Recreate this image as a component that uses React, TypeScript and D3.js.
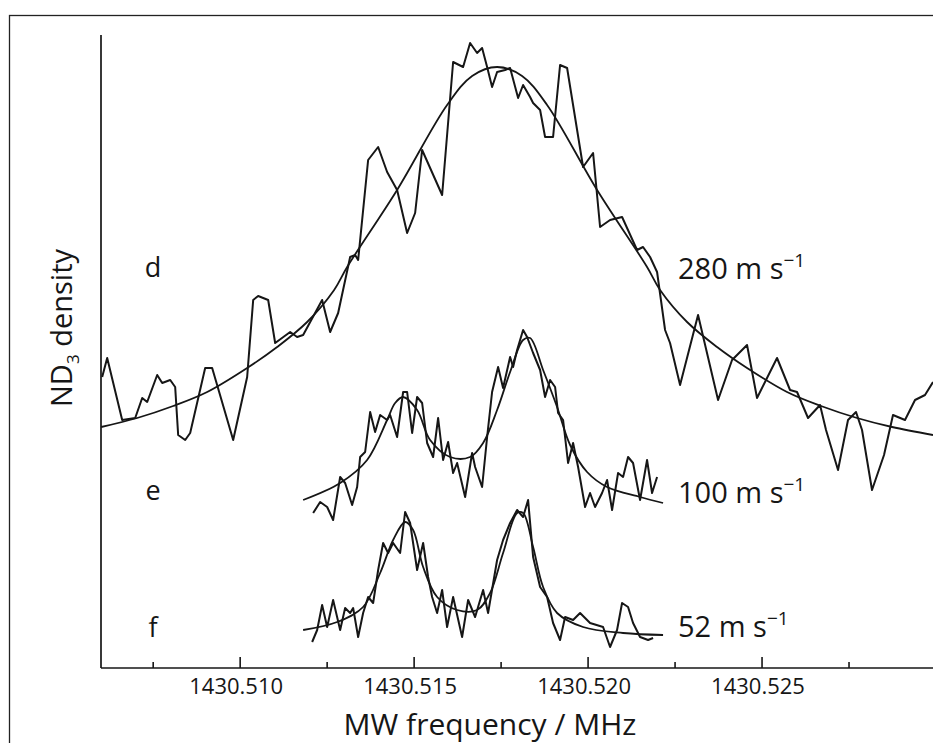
import React from "react";
import * as d3 from "d3";

// Frequencies are given in kHz above 1430.500 MHz; density in arbitrary units.
const dFreq = [6.034, 6.178, 6.609, 6.983, 7.184, 7.328, 7.615, 7.759, 7.989, 8.132, 8.218, 8.42, 8.563, 8.994, 9.195, 9.799, 10.201, 10.374, 10.517, 10.805, 11.006, 11.437, 11.638, 11.81, 12.356, 12.586, 12.816, 13.161, 13.305, 13.391, 13.678, 13.966, 14.224, 14.511, 14.799, 15.029, 15.23, 15.805, 16.121, 16.408, 16.609, 16.81, 16.954, 17.098, 17.241, 17.385, 17.615, 17.759, 17.989, 18.132, 18.333, 18.42, 18.621, 18.764, 18.994, 19.195, 19.397, 19.856, 20.144, 20.345, 20.632, 20.977, 21.408, 21.58, 21.782, 21.983, 22.213, 22.356, 22.644, 23.161, 23.736, 24.138, 24.569, 24.856, 25.431, 25.805, 26.006, 26.322, 26.667, 26.839, 27.184, 27.471, 27.701, 27.874, 28.161, 28.506, 28.764, 29.109, 29.397, 29.684, 29.914];
const dDens = [29.1, 31.0, 24.8, 25.0, 27.0, 26.6, 29.3, 28.5, 28.8, 28.1, 23.3, 22.8, 23.5, 30.0, 30.0, 22.8, 29.1, 36.8, 37.2, 36.8, 32.5, 33.6, 33.1, 33.3, 36.8, 33.6, 35.5, 41.1, 41.3, 40.8, 50.8, 52.1, 49.6, 47.8, 43.5, 45.5, 51.8, 47.3, 60.6, 60.1, 62.5, 61.5, 62.0, 60.1, 58.1, 59.6, 59.8, 60.0, 57.0, 58.3, 57.1, 56.5, 55.8, 53.1, 53.1, 60.3, 60.0, 50.1, 51.5, 44.1, 44.8, 45.1, 41.8, 42.1, 41.1, 39.6, 33.8, 32.5, 28.3, 35.3, 26.8, 30.8, 32.3, 27.0, 31.0, 27.8, 27.6, 25.0, 26.3, 23.8, 19.8, 24.8, 25.6, 23.8, 17.8, 21.3, 25.3, 24.8, 26.8, 27.3, 28.6];

const dFitFreq = [6.006, 7.04, 8.075, 9.052, 10.201, 11.063, 11.925, 12.701, 13.075, 14.511, 15.948, 16.667, 17.385, 18.103, 18.822, 20.259, 21.695, 22.069, 22.845, 23.707, 24.569, 25.718, 26.695, 27.73, 28.736, 29.914];
const dFitDens = [24.1, 25.0, 26.2, 27.6, 30.0, 32.1, 34.6, 37.8, 40.1, 47.8, 56.3, 59.2, 60.1, 59.2, 56.3, 47.8, 40.1, 37.8, 34.6, 32.1, 30.0, 27.6, 26.2, 25.0, 24.1, 23.3];

const eFreq = [12.098, 12.299, 12.5, 12.672, 12.874, 13.017, 13.218, 13.362, 13.448, 13.592, 13.736, 13.879, 14.023, 14.224, 14.31, 14.511, 14.684, 14.799, 14.943, 15.086, 15.23, 15.374, 15.546, 15.69, 15.833, 15.977, 16.121, 16.236, 16.466, 16.667, 16.753, 16.954, 17.098, 17.241, 17.414, 17.557, 17.759, 17.845, 17.96, 18.132, 18.247, 18.42, 18.621, 18.764, 18.908, 19.052, 19.138, 19.282, 19.425, 19.569, 19.713, 19.914, 20.057, 20.201, 20.402, 20.546, 20.69, 20.862, 21.006, 21.149, 21.293, 21.494, 21.695, 21.839, 21.983];
const eDens = [15.5, 16.6, 16.1, 14.8, 19.1, 18.5, 16.3, 18.1, 21.1, 21.6, 25.6, 23.6, 25.3, 24.8, 25.3, 23.1, 27.6, 27.6, 23.5, 27.1, 26.5, 22.5, 21.1, 25.0, 20.8, 22.6, 19.5, 20.5, 17.1, 21.5, 20.1, 18.1, 23.1, 27.6, 30.1, 28.0, 31.1, 30.1, 31.8, 33.8, 33.1, 31.5, 29.8, 27.1, 28.8, 28.1, 25.5, 24.8, 20.5, 22.5, 20.1, 16.1, 17.5, 16.1, 17.5, 18.8, 15.8, 19.5, 19.1, 21.1, 20.5, 16.8, 20.8, 17.5, 19.1];

const eFitFreq = [11.81, 12.874, 13.649, 14.224, 14.454, 14.684, 15.086, 15.46, 16.034, 16.609, 16.983, 17.385, 17.759, 18.132, 18.333, 18.707, 19.109, 19.483, 19.971, 20.546, 21.494, 22.155];
const eFitDens = [16.8, 18.5, 20.8, 24.8, 26.5, 27.1, 25.8, 22.8, 21.1, 21.1, 22.5, 25.8, 29.6, 32.8, 33.0, 29.8, 26.1, 22.3, 19.6, 18.1, 17.1, 16.5];

const fFreq = [12.069, 12.213, 12.356, 12.5, 12.672, 12.874, 13.017, 13.161, 13.247, 13.391, 13.534, 13.678, 13.822, 13.966, 14.109, 14.253, 14.397, 14.598, 14.741, 14.885, 15.086, 15.259, 15.402, 15.517, 15.661, 15.805, 15.948, 16.121, 16.379, 16.552, 16.753, 16.983, 17.126, 17.385, 17.557, 17.759, 17.96, 18.132, 18.276, 18.42, 18.621, 18.822, 18.994, 19.195, 19.339, 19.569, 19.77, 20.057, 20.431, 20.632, 20.833, 20.977, 21.149, 21.293, 21.494, 21.724, 21.868];
const fDens = [2.6, 3.8, 6.3, 4.1, 6.8, 3.8, 6.0, 5.5, 6.0, 3.1, 5.5, 7.1, 6.5, 9.8, 12.5, 11.5, 12.5, 11.5, 15.6, 14.5, 9.8, 12.5, 9.1, 7.1, 5.5, 7.8, 4.1, 7.1, 3.1, 6.8, 5.1, 7.8, 5.5, 10.8, 12.8, 14.5, 15.8, 15.1, 16.8, 11.1, 8.1, 7.1, 4.5, 2.8, 5.1, 4.8, 5.5, 4.5, 4.1, 2.1, 3.8, 6.5, 6.1, 4.5, 3.1, 2.8, 3.0];

const fFitFreq = [11.81, 12.787, 13.534, 14.023, 14.397, 14.741, 14.971, 15.259, 15.661, 16.236, 16.81, 17.184, 17.557, 17.96, 18.132, 18.42, 18.707, 19.109, 19.856, 21.006, 22.155];
const fFitDens = [3.8, 4.6, 6.1, 9.5, 12.8, 14.6, 13.8, 10.1, 7.1, 5.8, 5.8, 7.5, 11.5, 15.5, 15.5, 12.1, 8.1, 5.5, 4.1, 3.5, 3.3];

const majorTicks = [10, 15, 20, 25];
const minorTicks = [7.5, 12.5, 17.5, 22.5, 27.5];
const traceLetters = ["d", "e", "f"];
const speedLabels = ["280", "100", "52"];
const speedLabelDens = [38.9, 16.5, 3.1];
const letterDens = [39.1, 16.8, 3.1];

const W = 933;
const H = 743;
const FONT = "'Open Sans', 'Noto Sans', sans-serif";
const INK = "#161616";

export default function App() {
  const x = d3.scaleLinear().domain([6.0, 30.0]).range([101, 936]);
  const y = d3.scaleLinear().domain([0, 63.3]).range([668, 35]);

  const zip = (a: number[], b: number[]) => a.map((v, i) => [v, b[i]] as [number, number]);
  const raw = d3.line<[number, number]>().x((d) => x(d[0])).y((d) => y(d[1]));
  const smooth = d3
    .line<[number, number]>()
    .x((d) => x(d[0]))
    .y((d) => y(d[1]))
    .curve(d3.curveCatmullRom.alpha(0.5));

  const rawSeries = [zip(dFreq, dDens), zip(eFreq, eDens), zip(fFreq, fDens)];
  const fitSeries = [zip(dFitFreq, dFitDens), zip(eFitFreq, eFitDens), zip(fFitFreq, fFitDens)];

  const axisY = y(0);
  const fmt = (k: number) => (1430.5 + k / 1000).toFixed(3);

  return (
    <svg
      width={W}
      height={H}
      style={{ position: "absolute", left: 0, top: 0, background: "#fff" }}
      fontFamily={FONT}
    >
      <rect x={0} y={0} width={W} height={H} fill="#fff" />
      <rect x={9.5} y={15.5} width={W + 20} height={H + 20} fill="none" stroke="#222" strokeWidth={1.3} />

      {/* axes */}
      <line x1={x(6)} x2={x(6)} y1={y(63.3)} y2={axisY} stroke={INK} strokeWidth={1.7} />
      <line x1={x(6)} x2={W} y1={axisY} y2={axisY} stroke={INK} strokeWidth={1.7} />
      {majorTicks.map((t) => (
        <g key={"M" + t}>
          <line x1={x(t)} x2={x(t)} y1={axisY} y2={axisY - 11} stroke={INK} strokeWidth={1.6} />
          <text x={x(t) - 4} y={694} textAnchor="middle" fontSize={22} fill={INK}>
            {fmt(t)}
          </text>
        </g>
      ))}
      {minorTicks.map((t) => (
        <line key={"m" + t} x1={x(t)} x2={x(t)} y1={axisY} y2={axisY - 6} stroke={INK} strokeWidth={1.6} />
      ))}

      {/* axis titles */}
      <text x={490} y={735} textAnchor="middle" fontSize={30} fill={INK}>
        MW frequency  / MHz
      </text>
      <text transform="translate(72,328) rotate(-90)" textAnchor="middle" fontSize={29} fill={INK}>
        ND
        <tspan fontSize={17} dy={7}>3</tspan>
        <tspan dy={-7}> density</tspan>
      </text>

      {/* traces */}
      {rawSeries.map((s, i) => (
        <path key={"r" + i} d={raw(s) || ""} fill="none" stroke={INK} strokeWidth={2} strokeLinejoin="round" />
      ))}
      {fitSeries.map((s, i) => (
        <path key={"f" + i} d={smooth(s) || ""} fill="none" stroke={INK} strokeWidth={1.8} />
      ))}

      {/* labels */}
      {traceLetters.map((l, i) => (
        <text key={l} x={153} y={y(letterDens[i])} textAnchor="middle" fontSize={27} fill={INK}>
          {l}
        </text>
      ))}
      {speedLabels.map((s, i) => (
        <text key={s} x={678} y={y(speedLabelDens[i])} fontSize={29} fill={INK}>
          {s} m s
          <tspan fontSize={19} dy={-12}>−1</tspan>
        </text>
      ))}
    </svg>
  );
}
